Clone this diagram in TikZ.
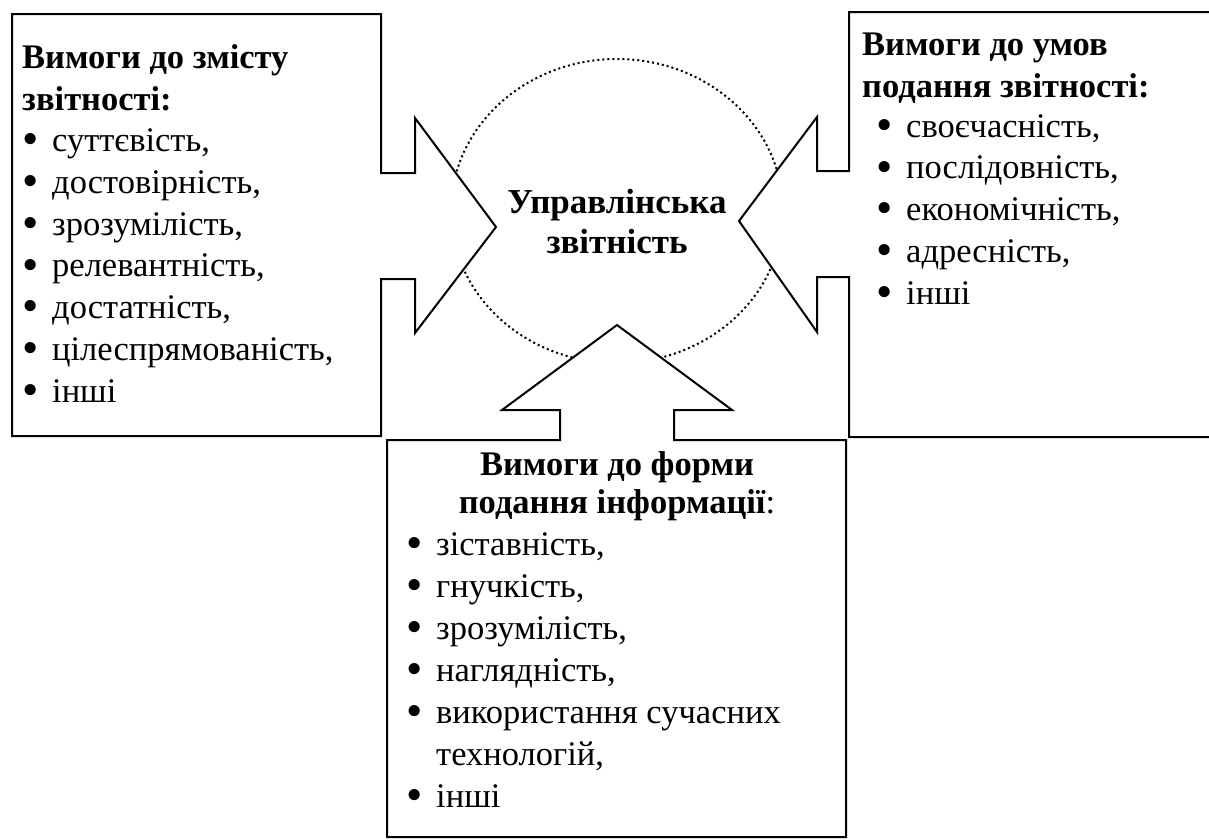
\documentclass[tikz,border=0pt]{standalone}
\usepackage{fontspec}
\setmainfont{Liberation Serif}
\usetikzlibrary{positioning}

\newcommand{\bul}{\raisebox{-0.09em}{\scalebox{1.35}{\textbullet}}}
\newcommand{\itm}[1]{\hbox to 30pt{\bul\hfil}#1}

\begin{document}
\begin{tikzpicture}[x=1pt, y=-1pt,
        frame/.style={line width=2pt, fill=white, line join=miter},
        txt/.style={inner sep=0pt, align=left, font=\fontsize{34.5}{41.7}\selectfont},
        head/.style={txt, font=\fontsize{34.5}{41.7}\selectfont\bfseries}]
        \useasboundingbox (0,0) rectangle (1209,839);

        % arrow tips
        \coordinate (tl) at (496,227);
        \coordinate (tr) at (739,221);
        \coordinate (tb) at (617,325);

        % the dotted circle
        \draw [line width=2pt, dash pattern=on 2pt off 3pt] (617,211) ellipse [x radius=166, y radius=152];

        % left box
        \draw [frame] (381,173) -- (381,14) -- (12,14) -- (12,436) -- (381,436) -- (381,279)
                -- (415,279) -- (415,333) -- (tl) -- (415,118) -- (415,173) -- cycle;

        % right box
        \draw [frame] (849,171) -- (849,12) -- (1212,12) -- (1212,437) -- (849,437) -- (849,277)
                -- (817,277) -- (817,332) -- (tr) -- (817,117) -- (817,171) -- cycle;

        % bottom box
        \draw [frame] (560,440) -- (560,410) -- (502,410) -- (tb) -- (732,410) -- (674,410)
                -- (674,440) -- (846,440) -- (846,837) -- (387,837) -- (387,440) -- cycle;

        % centre (base = last line)
        \node[head, align=center, font=\fontsize{35}{40}\selectfont\bfseries, anchor=base] (centre) at (617,253)
                {Управлінська\\звітність};

        % left texts
        \node[head, anchor=base west] (lhead) at (22,110) {Вимоги до змісту\\звітності:};
        \node[txt, anchor=base west] (llist) at (22,402)
                {\itm{суттєвість,}\\ \itm{достовірність,}\\ \itm{зрозумілість,}\\ \itm{релевантність,}\\
                 \itm{достатність,}\\ \itm{цілеспрямованість,}\\ \itm{інші}};

        % right texts
        \node[head, anchor=base west] (rhead) at (862,97) {Вимоги до умов\\подання звітності:};
        \node[txt, anchor=base west] (rlist) at (876,304)
                {\itm{своєчасність,}\\ \itm{послідовність,}\\ \itm{економічність,}\\ \itm{адресність,}\\ \itm{інші}};

        % bottom texts
        \node[head, align=center, font=\fontsize{34.5}{38}\selectfont\bfseries, anchor=base] (bhead) at (617,513)
                {Вимоги до форми\\подання інформації\mdseries:};
        \node[txt, font=\fontsize{34.5}{42}\selectfont, anchor=base west] (blist) at (406,807)
                {\itm{зіставність,}\\ \itm{гнучкість,}\\ \itm{зрозумілість,}\\ \itm{наглядність,}\\
                 \itm{використання сучасних}\\ \hbox to 30pt{}технологій,\\ \itm{інші}};
\end{tikzpicture}
\end{document}
